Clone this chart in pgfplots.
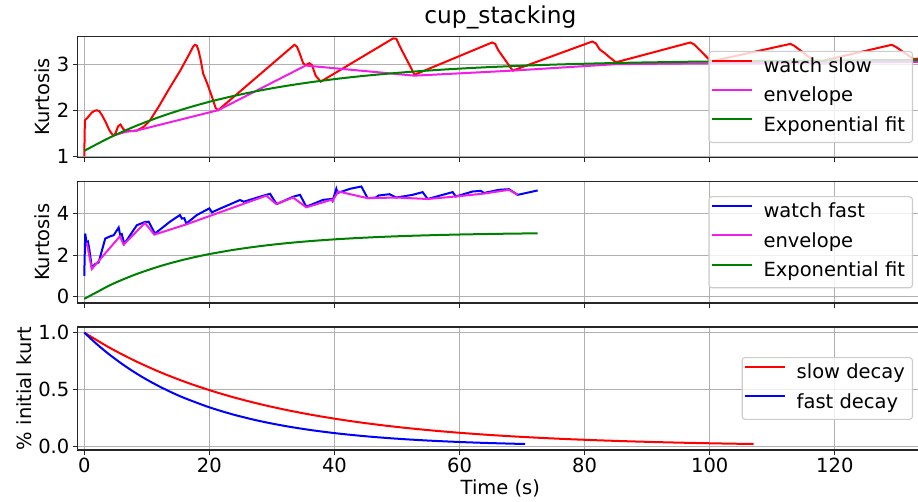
\documentclass[border=0pt]{standalone}
\usepackage{pgfplots}
\pgfplotsset{compat=1.18}
\usepackage{fontspec}
\setmainfont{DejaVu Sans}
\definecolor{mred}{RGB}{255,0,0}
\definecolor{mmag}{RGB}{240,30,230}
\definecolor{mgreen}{RGB}{0,128,0}
\definecolor{mblue}{RGB}{0,0,255}
\definecolor{gridc}{RGB}{176,176,176}
\definecolor{legc}{RGB}{204,204,204}
\newcommand{\tfont}{\fontsize{19.5}{23}\selectfont}
\pgfplotsset{
  panel/.style={
    scale only axis, width=845.3pt,
    xmin=-1.05, xmax=134.1,
    xtick={0,20,...,120},
    grid=major, major grid style={gridc, line width=1.1pt},
    axis line style={black!85, line width=1.1pt},
    tick align=outside, major tick length=4.9pt,
    tick style={black!85, line width=1.1pt},
    tick pos=left,
    font=\tfont, tick label style={font=\tfont},
    label style={font=\tfont},
    /pgf/number format/assume math mode=true,
    no markers,
    every axis plot/.append style={line width=2pt},
    legend cell align=left,
    legend image code/.code={\draw[#1] (0pt,6.8pt) -- (40pt,6.8pt);},
    legend style={at={(1,0.5)}, anchor=east, xshift=-10pt,
      draw=legc, line width=1.1pt, rounded corners=3pt,
      fill=white, fill opacity=0.8, draw opacity=1, text opacity=1,
      inner xsep=2pt, inner ysep=1.6pt, font=\tfont,
      nodes={inner xsep=5.5pt, inner ysep=5.65pt, text height=14pt, text depth=4pt},
      column sep=5pt},
  }
}
\begin{document}
\begin{tikzpicture}
\useasboundingbox (0pt,0pt) rectangle (918pt,502pt);
\clip (0pt,0pt) rectangle (918pt,502pt);
% ---------------- top panel
\begin{axis}[panel, at={(77.7pt,344.5pt)}, anchor=south west, height=121pt,
  ymin=0.975, ymax=3.6, ytick={1,2,3},
  xticklabels={},
  ylabel={Kurtosis},
  title={cup\_stacking}, title style={font=\fontsize{23.3}{28}\selectfont, yshift=-2pt}]
\addplot[mred] coordinates {
(0,1.0) (0.1,1.78) (0.6,1.85) (1.2,1.95) (1.7,1.99) (2.0,2.0) (2.4,1.98) (2.8,1.9) (3.4,1.75) (4.0,1.57)
(4.6,1.45) (5.0,1.5) (5.4,1.65) (5.8,1.69) (6.2,1.6) (6.6,1.55) (7.5,1.55) (8.4,1.56)
(9.5,1.64) (10.5,1.78) (12.0,2.1) (13.5,2.45) (15.3,2.85) (16.8,3.22) (17.4,3.38) (17.7,3.42)
(18.0,3.4) (18.3,3.28) (18.6,3.1) (19.0,2.8) (19.6,2.6) (20.4,2.3) (21.0,2.05) (21.4,2.0)
(33.6,3.42) (34.0,3.38) (34.4,3.25) (35.0,3.02) (35.4,2.98) (36.0,3.02) (36.4,2.98)
(37.0,2.75) (37.8,2.62) (49.4,3.56) (49.9,3.55) (50.4,3.4) (52.8,2.77) (65.2,3.47)
(65.7,3.44) (66.2,3.3) (68.5,2.86) (81.2,3.49) (81.8,3.45) (82.4,3.32) (83.2,3.24)
(83.8,3.17) (85.0,3.04) (96.9,3.47) (97.5,3.43) (100.2,3.06) (112.9,3.44) (113.5,3.4)
(117.0,3.04) (129.1,3.42) (129.7,3.38) (132.6,3.11) (134.0,3.13)
};
\addlegendentry{watch slow}
\addplot[mmag] coordinates {
(4.6,1.45) (6.6,1.53) (8.4,1.56) (21.4,2.0) (35.4,2.97) (52.8,2.75) (68.5,2.86)
(85.0,3.0) (100.2,3.02) (117.0,3.03) (132.6,3.05) (134.0,3.05)
};
\addlegendentry{envelope}
\addplot[mgreen, smooth] coordinates {
(0,1.12) (4,1.402) (8,1.645) (12,1.852) (16,2.030) (20,2.183) (24,2.313) (28,2.426)
(32,2.522) (36,2.604) (40,2.675) (44,2.736) (48,2.787) (52,2.832) (56,2.870) (60,2.903)
(64,2.931) (68,2.955) (72,2.976) (76,2.994) (80,3.009) (84,3.022) (88,3.033) (92,3.042)
(96,3.051) (100,3.058) (104,3.064) (108,3.069) (112,3.073) (116,3.077) (120,3.080)
(124,3.083) (128,3.086) (132,3.088) (136,3.090)
};
\addlegendentry{Exponential fit}
\end{axis}
% ---------------- middle panel
\begin{axis}[panel, at={(77.7pt,199pt)}, anchor=south west, height=121.5pt,
  ymin=-0.3, ymax=5.53, ytick={0,2,4},
  xticklabels={},
  ylabel={Kurtosis}]
\addplot[mblue] coordinates {
(0,1.0) (0.15,3.03) (0.4,2.54) (0.6,2.62) (0.8,2.3) (1.2,1.41) (1.75,1.57) (2.3,1.65)
(3.35,2.79) (4.15,2.9) (4.7,2.95) (5.5,3.32) (5.75,2.95) (6.0,3.0) (6.4,2.54) (8.4,3.43)
(9.7,3.59) (10.3,3.6) (11.3,3.03) (13.7,3.6) (15.3,3.92) (15.6,3.75) (16.0,3.77)
(16.3,3.51) (18.0,3.92) (20.0,4.24) (20.4,4.05) (21.8,4.24) (24.9,4.64) (25.5,4.56)
(28.1,4.8) (29.7,4.94) (30.5,4.56) (30.8,4.45) (33.4,4.8) (34.5,4.89) (35.5,4.32)
(38.2,4.65) (39.5,4.69) (39.7,4.6) (40.3,5.18) (40.5,4.98) (42.5,5.18) (44.3,5.29)
(45.3,4.73) (46.6,4.76) (47.1,4.86) (48.8,4.92) (49.9,4.76) (52.5,4.89) (54.1,5.02)
(54.9,4.69) (57.3,4.89) (58.9,5.02) (59.4,4.81) (62.1,5.05) (63.4,5.08) (63.9,4.98)
(66.3,5.13) (67.9,5.16) (69.3,4.89) (72.5,5.1)
};
\addlegendentry{watch fast}
\addplot[mmag] coordinates {
(0.4,2.6) (1.2,1.33) (5.7,2.9) (6.3,2.5) (9.7,3.54) (11.2,2.98) (16.3,3.47) (29.1,4.85)
(30.7,4.45) (33.4,4.76) (35.5,4.29) (39.5,4.65) (39.7,4.6) (40.6,5.05) (45.3,4.73)
(49.9,4.76) (54.9,4.69) (59.4,4.81) (63.9,4.95) (67.9,5.13) (69.3,4.89)
};
\addlegendentry{envelope}
\addplot[mgreen, smooth] coordinates {
(0,-0.1) (2,0.218) (4,0.538) (6,0.807) (8,1.048) (10,1.262) (12,1.457) (14,1.630) (16,1.784) (18,1.923)
(20,2.047) (24,2.256) (28,2.424)
(32,2.559) (36,2.667) (40,2.753) (44,2.822) (48,2.878) (52,2.922) (56,2.957) (60,2.986)
(64,3.008) (68,3.027) (72.5,3.043)
};
\addlegendentry{Exponential fit}
\end{axis}
% ---------------- bottom panel
\begin{axis}[panel, at={(77.7pt,52pt)}, anchor=south west, height=123pt,
  ymin=-0.029, ymax=1.049, ytick={0,0.5,1}, yticklabels={0.0,0.5,1.0},
  ylabel={\% initial kurt}, xlabel={Time (s)}]
\addplot[mred, smooth] coordinates {
(0,1) (4,0.869) (8,0.7553) (12,0.6563) (16,0.5704) (20,0.4957) (24,0.4308) (28,0.3744)
(32,0.3254) (36,0.2828) (40,0.2457) (44,0.2135) (48,0.1856) (52,0.1613) (56,0.1402)
(60,0.1218) (64,0.1059) (68,0.0920) (72,0.0800) (76,0.0695) (80,0.0604) (84,0.0525)
(88,0.0456) (92,0.0396) (96,0.0344) (100,0.0299) (104,0.0260) (107,0.0234)
};
\addlegendentry{slow decay}
\addplot[mblue, smooth] coordinates {
(0,1) (2,0.899) (4,0.8083) (6,0.7268) (8,0.6534) (10,0.5875) (12,0.5282) (14,0.4749)
(16,0.4269) (20,0.3451) (24,0.2790) (28,0.2255) (32,0.1823) (36,0.1474) (40,0.1191)
(44,0.0963) (48,0.0778) (52,0.0629) (56,0.0509) (60,0.0411) (64,0.0332) (68,0.0269)
(70.5,0.0235)
};
\addlegendentry{fast decay}
\end{axis}
\end{tikzpicture}
\end{document}
